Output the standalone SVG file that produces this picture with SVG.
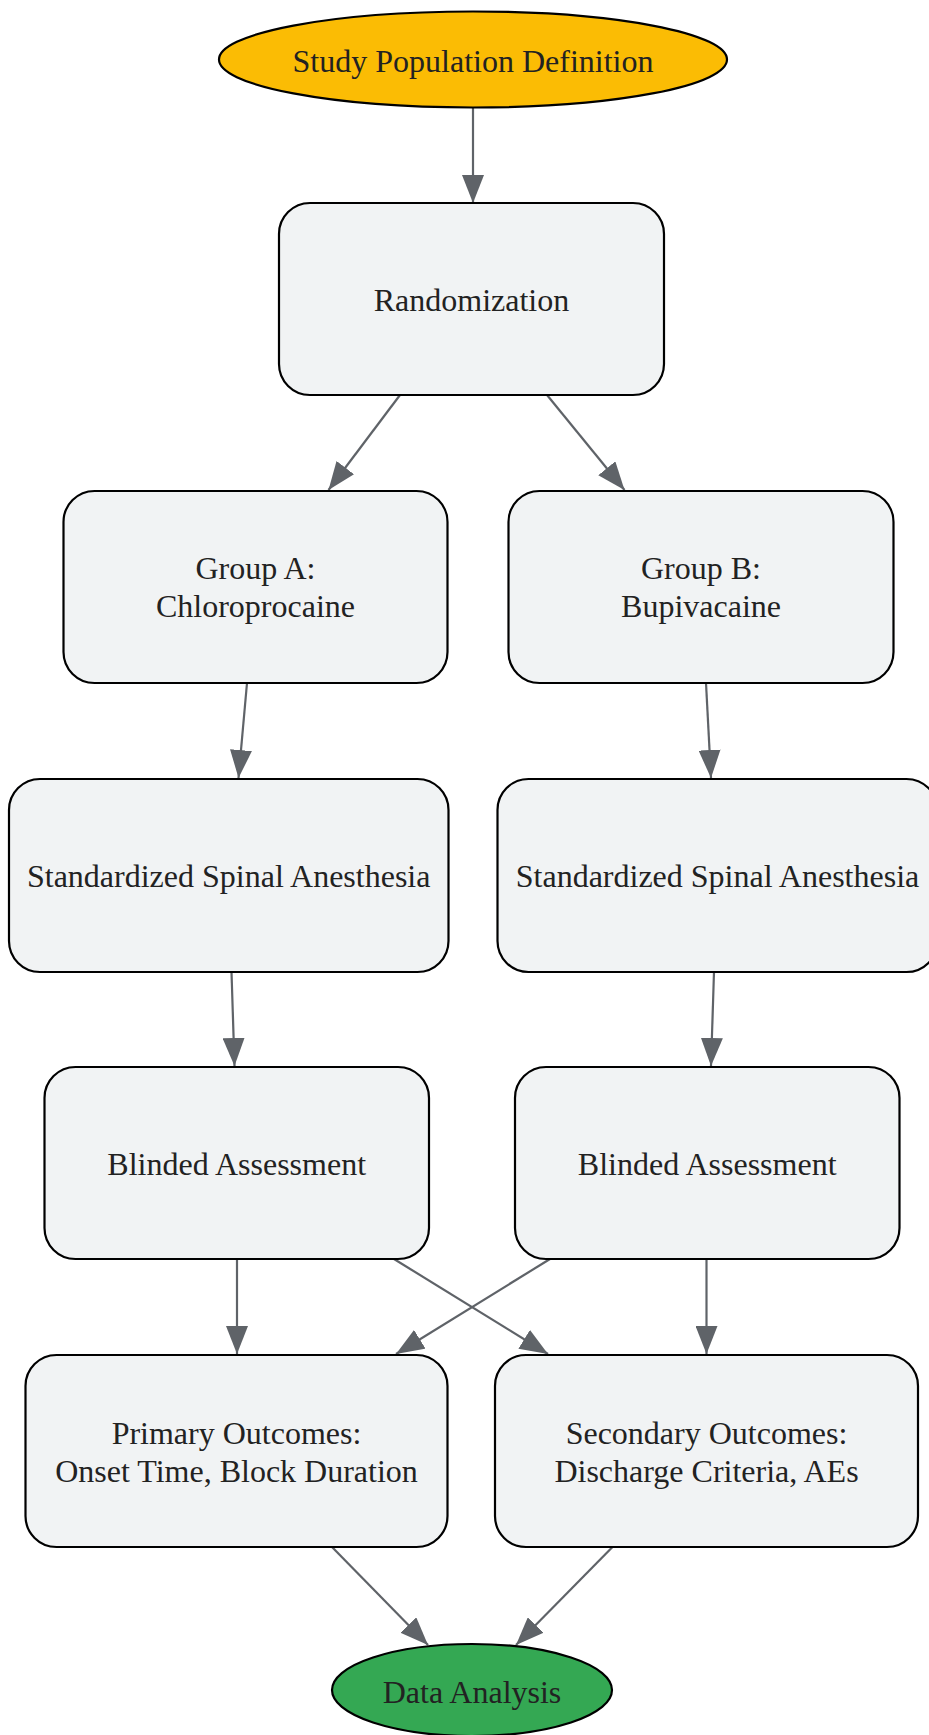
<svg xmlns="http://www.w3.org/2000/svg" width="929" height="1735" viewBox="0 0 929 1735">
<style>
.box{fill:#f1f3f4;stroke:#000;stroke-width:2.2}
.start{fill:#fbbc04;stroke:#000;stroke-width:2.2}
.end{fill:#34a853;stroke:#000;stroke-width:2.2}
.lbl{font-family:"Liberation Serif","Times New Roman",serif;font-size:32px;fill:#222;text-anchor:middle}
.edge{stroke:#5f6368;stroke-width:2.2;fill:none}
</style>
<defs>
<marker id="ah" markerUnits="userSpaceOnUse" markerWidth="28" markerHeight="22" refX="28" refY="11" orient="auto" viewBox="0 0 28 22">
<path d="M0,0 L28,11 L0,22 z" fill="#5f6368"/>
</marker>
</defs>
<rect width="929" height="1735" fill="#fff"/>
<g id="connectors">
<line class="edge" marker-end="url(#ah)" x1="473" y1="107.5" x2="473" y2="203"/>
<line class="edge" marker-end="url(#ah)" x1="400" y1="395" x2="328.5" y2="490"/>
<line class="edge" marker-end="url(#ah)" x1="547" y1="395" x2="624.5" y2="490"/>
<line class="edge" marker-end="url(#ah)" x1="247" y1="683" x2="238.5" y2="778"/>
<line class="edge" marker-end="url(#ah)" x1="706" y1="683" x2="711" y2="778"/>
<line class="edge" marker-end="url(#ah)" x1="231.5" y1="972" x2="234.5" y2="1066"/>
<line class="edge" marker-end="url(#ah)" x1="714" y1="972" x2="711" y2="1066"/>
<line class="edge" marker-end="url(#ah)" x1="237" y1="1259" x2="237" y2="1354"/>
<line class="edge" marker-end="url(#ah)" x1="394" y1="1259" x2="548" y2="1354"/>
<line class="edge" marker-end="url(#ah)" x1="550" y1="1259" x2="396" y2="1354"/>
<line class="edge" marker-end="url(#ah)" x1="706.5" y1="1259" x2="706.5" y2="1354"/>
<line class="edge" marker-end="url(#ah)" x1="332" y1="1547" x2="428" y2="1645"/>
<line class="edge" marker-end="url(#ah)" x1="612.5" y1="1547" x2="516" y2="1645"/>
</g>
<g id="study_population">
<ellipse class="start" cx="473" cy="59.5" rx="254" ry="48"/>
<text class="lbl" x="473" y="71.5">Study Population Definition</text>
</g>
<g id="randomization">
<rect class="box" x="279" y="203" width="385" height="192" rx="31" ry="31"/>
<text class="lbl" x="471.5" y="311">Randomization</text>
</g>
<g id="group_a">
<rect class="box" x="63.5" y="491" width="384" height="192" rx="31" ry="31"/>
<text class="lbl" x="255.5" y="579">Group A:</text>
<text class="lbl" x="255.5" y="617">Chloroprocaine</text>
</g>
<g id="group_b">
<rect class="box" x="508.5" y="491" width="385" height="192" rx="31" ry="31"/>
<text class="lbl" x="701" y="579">Group B:</text>
<text class="lbl" x="701" y="617">Bupivacaine</text>
</g>
<g id="spinal_a">
<rect class="box" x="9" y="779" width="439.5" height="193" rx="31" ry="31"/>
<text class="lbl" x="228.7" y="886.5">Standardized Spinal Anesthesia</text>
</g>
<g id="spinal_b">
<rect class="box" x="497.5" y="779" width="440" height="193" rx="31" ry="31"/>
<text class="lbl" x="717.5" y="886.5">Standardized Spinal Anesthesia</text>
</g>
<g id="blinded_a">
<rect class="box" x="44.5" y="1067" width="384.5" height="192" rx="31" ry="31"/>
<text class="lbl" x="236.7" y="1174.5">Blinded Assessment</text>
</g>
<g id="blinded_b">
<rect class="box" x="515" y="1067" width="384.5" height="192" rx="31" ry="31"/>
<text class="lbl" x="707.2" y="1174.5">Blinded Assessment</text>
</g>
<g id="primary_outcomes">
<rect class="box" x="25.5" y="1355" width="422" height="192" rx="31" ry="31"/>
<text class="lbl" x="236.5" y="1443.5">Primary Outcomes:</text>
<text class="lbl" x="236.5" y="1481.5">Onset Time, Block Duration</text>
</g>
<g id="secondary_outcomes">
<rect class="box" x="495" y="1355" width="423" height="192" rx="31" ry="31"/>
<text class="lbl" x="706.5" y="1443.5">Secondary Outcomes:</text>
<text class="lbl" x="706.5" y="1481.5">Discharge Criteria, AEs</text>
</g>
<g id="data_analysis">
<ellipse class="end" cx="472" cy="1690" rx="140" ry="46"/>
<text class="lbl" x="472" y="1702.5">Data Analysis</text>
</g>
</svg>
